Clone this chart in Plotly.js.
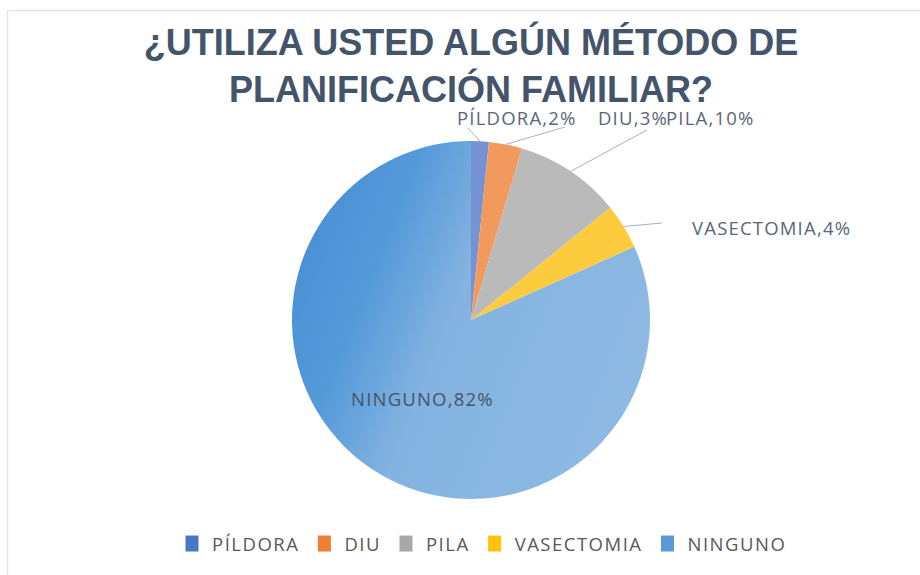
<!DOCTYPE html>
<html>
<head>
<meta charset="utf-8">
<script src="https://cdn.plot.ly/plotly-3.0.1.min.js"></script>
<style>
html,body{margin:0;padding:0;background:#fff;}
#chart{width:920px;height:575px;}
.annotation-text { letter-spacing: 1.2px; }
.legendtext { letter-spacing: 1.5px; }
</style>
</head>
<body>
<div id="chart"></div>
<script>
// ---- data ----
const categories = ['PÍLDORA', 'DIU', 'PILA', 'VASECTOMIA', 'NINGUNO'];
const shares = [1.6, 3.0, 9.6, 4.1, 81.7];
const sliceColors = ['#7593d3', '#f29a5e', '#bababa', '#fdcb3e', '#78acdf'];
const legendColors = ['#4a76c6', '#ee8034', '#a8a8a8', '#ffc20e', '#5b9bd5'];
const chartTitle = '¿UTILIZA USTED ALGÚN MÉTODO DE<br>PLANIFICACIÓN FAMILIAR?';

// ---- layout / style ----
const W = 920, H = 575;
const cx = 471, cy = 320, R = 179;           // pie centre and radius in px
// label text centre and leader-line end (px); null line = label inside slice
const labelStyle = [
  {tx: 517, ty: 117, lx: 468, ly: 128},
  {tx: 633, ty: 117, lx: 565, ly: 127},
  {tx: 710, ty: 117, lx: 647, ly: 130},
  {tx: 771, ty: 227, lx: 662, ly: 223},
  {tx: 422, ty: 398, lx: null, ly: null}
];
const px = x => x / W;
const py = y => 1 - y / H;

const total = shares.reduce((a, b) => a + b, 0);
const annotations = [];
const shapes = [];
let cum = 0;
shares.forEach((v, i) => {
  const mid = (cum + v / 2) / total * 2 * Math.PI;
  cum += v;
  const sx = cx + R * Math.sin(mid);
  const sy = cy - R * Math.cos(mid);
  const st = labelStyle[i];
  const pct = Math.round(v / total * 100);
  annotations.push({
    xref: 'paper', yref: 'paper', x: px(st.tx), y: py(st.ty),
    xanchor: 'center', yanchor: 'middle', showarrow: false,
    text: categories[i] + ',' + pct + '%',
    font: {family: 'Open Sans, Noto Sans, sans-serif', size: 18.5, color: i === 4 ? '#44546a' : '#5a6678'}
  });
  if (st.lx !== null) {
    shapes.push({
      type: 'line', xref: 'paper', yref: 'paper',
      x0: px(sx), y0: py(sy), x1: px(st.lx), y1: py(st.ly),
      line: {color: '#a3b2c6', width: 1}
    });
  }
});
// chart frame
shapes.push({type: 'rect', xref: 'paper', yref: 'paper',
  x0: px(7.5), y0: py(590), x1: px(940), y1: py(10.5),
  line: {color: '#e2e3ea', width: 1.5}, fillcolor: 'rgba(0,0,0,0)', layer: 'below'});

const trace = {
  type: 'pie',
  labels: categories,
  values: shares,
  sort: false,
  direction: 'clockwise',
  rotation: 0,
  textinfo: 'none',
  hoverinfo: 'label+percent',
  marker: {colors: sliceColors, line: {width: 0}},
  domain: {x: [px(cx - R), px(cx + R)], y: [py(cy + R), py(cy - R)]}
};

const layout = {
  width: W, height: H,
  margin: {l: 0, r: 0, t: 0, b: 0},
  paper_bgcolor: '#ffffff',
  title: {
    text: chartTitle,
    font: {family: 'Liberation Sans, Arial, sans-serif', size: 36, color: '#44546a', weight: 'bold'},
    x: px(471), xanchor: 'center', y: py(55), yanchor: 'top', yref: 'container', xref: 'container'
  },
  showlegend: true,
  legend: {
    orientation: 'h', x: px(482), xanchor: 'center', y: py(544), yanchor: 'middle',
    font: {family: 'Open Sans, Noto Sans, sans-serif', size: 18.5, color: '#595959'},
    itemclick: false
  },
  annotations: annotations,
  shapes: shapes
};

Plotly.newPlot('chart', [trace], layout, {displayModeBar: false, staticPlot: true}).then(gd => {
  // Excel-like soft gradient on the large slice, and base colours on legend keys
  const svgNS = 'http://www.w3.org/2000/svg';
  const mainSvg = gd.querySelector('svg.main-svg');
  let defs = mainSvg.querySelector('defs');
  if (!defs) { defs = document.createElementNS(svgNS, 'defs'); mainSvg.insertBefore(defs, mainSvg.firstChild); }
  const grad = document.createElementNS(svgNS, 'linearGradient');
  grad.setAttribute('id', 'gradNinguno');
  grad.setAttribute('x1', '0'); grad.setAttribute('y1', '0.3');
  grad.setAttribute('x2', '1'); grad.setAttribute('y2', '0.7');
  [[0, '#4a8fd6'], [0.22, '#559ad9'], [0.45, '#84b3e1'], [1, '#8ebae3']].forEach(([o, c]) => {
    const s = document.createElementNS(svgNS, 'stop');
    s.setAttribute('offset', o); s.setAttribute('stop-color', c);
    grad.appendChild(s);
  });
  defs.appendChild(grad);
  const slices = gd.querySelectorAll('g.slice path.surface');
  if (slices[4]) slices[4].style.fill = 'url(#gradNinguno)';
  const keys = gd.querySelectorAll('g.legend g.traces path.legendpie');
  keys.forEach((k, i) => {
    if (legendColors[i]) k.style.fill = legendColors[i];
    k.setAttribute('d', 'M6.5,8H-6.5V-8H6.5Z');
  });
});
</script>
</body>
</html>
